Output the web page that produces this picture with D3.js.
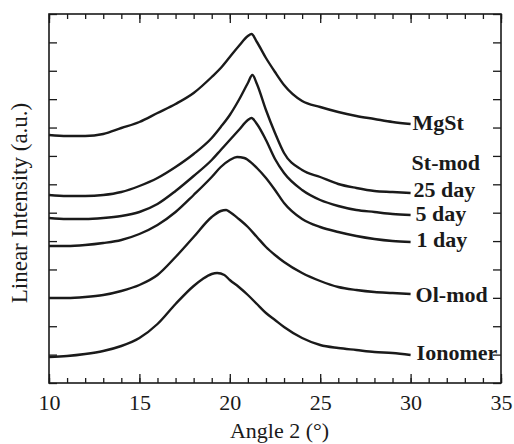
<!DOCTYPE html>
<html>
<head>
<meta charset="utf-8">
<script src="https://cdn.jsdelivr.net/npm/d3@7"></script>
<style>
  html, body { margin: 0; padding: 0; background: #fff; }
  svg { display: block; }
  text { font-family: "Liberation Serif", "Times New Roman", serif; fill: #1a1a1a; }
</style>
</head>
<body>
<svg id="chart" width="514" height="444"></svg>
<script>
// X-ray diffraction scans, offset vertically (arbitrary intensity units)
const xTicksMajor = [10, 15, 20, 25, 30, 35];

const mgstAngle = [10, 11, 12, 13, 14, 15, 16, 17, 18, 19, 19.5, 20, 20.5, 21, 21.2, 21.5, 22, 22.5, 23, 24, 25, 26, 27, 28, 29, 30];
const mgstValue = [248, 247, 247, 249, 255, 261, 270, 279, 290, 306, 315, 326, 337, 347, 349, 341, 325, 311, 298, 282, 276, 271, 267, 264, 261, 259];

const day25Angle = [10, 11, 12, 13, 14, 15, 16, 17, 18, 19, 19.5, 20, 20.5, 21, 21.25, 21.5, 22, 22.5, 23, 24, 25, 26, 27, 28, 29, 30];
const day25Value = [188, 187, 187, 188, 191, 197, 205, 216, 229, 245, 256, 268, 283, 300, 308, 299, 273, 250, 230, 213, 206, 199, 195, 192, 191, 190];

const day5Angle = [10, 11, 12, 13, 14, 15, 16, 17, 18, 19, 19.5, 20, 20.5, 21, 21.2, 21.5, 22, 22.5, 23, 24, 25, 26, 27, 28, 29, 30];
const day5Value = [165, 164, 164, 165, 167, 171, 179, 192, 207, 223, 233, 243, 253, 263, 265, 259, 243, 224, 210, 193, 183, 177, 173, 171, 169, 168];

const day1Angle = [10, 11, 12, 13, 14, 15, 16, 17, 18, 19, 19.5, 20, 20.4, 20.8, 21, 21.5, 22, 22.5, 23, 24, 25, 26, 27, 28, 29, 30];
const day1Value = [137, 137, 138, 140, 143, 149, 158, 171, 188, 206, 216, 223, 226, 225, 223, 215, 205, 193, 180, 164, 156, 151, 147, 144, 142, 141];

const olmodAngle = [10, 11, 12, 13, 14, 15, 16, 17, 18, 19, 19.5, 19.8, 20, 20.5, 21, 21.5, 22, 22.5, 23, 24, 25, 26, 27, 28, 29, 30];
const olmodValue = [85, 85, 86, 88, 92, 98, 108, 126, 146, 166, 172, 173, 171, 164, 156, 146, 136, 128, 121, 110, 102, 96, 93, 91, 90, 89];

const ionomerAngle = [10, 11, 12, 13, 14, 15, 16, 17, 18, 18.5, 19, 19.3, 19.7, 20, 20.5, 21, 21.5, 22, 22.5, 23, 24, 25, 26, 27, 28, 29, 30];
const ionomerValue = [26, 27, 29, 32, 37, 45, 59, 79, 97, 104, 109, 110, 108, 103, 96, 88, 79, 70, 63, 56, 45, 38, 35, 33, 31, 30, 28];

const seriesLabels = ["MgSt", "25 day", "5 day", "1 day", "Ol-mod", "Ionomer"];
const groupLabel = "St-mod";

const series = [
  { name: seriesLabels[0], angle: mgstAngle, value: mgstValue },
  { name: seriesLabels[1], angle: day25Angle, value: day25Value },
  { name: seriesLabels[2], angle: day5Angle, value: day5Value },
  { name: seriesLabels[3], angle: day1Angle, value: day1Value },
  { name: seriesLabels[4], angle: olmodAngle, value: olmodValue },
  { name: seriesLabels[5], angle: ionomerAngle, value: ionomerValue }
];

const W = 514, H = 444;
const margin = { top: 14, right: 13, bottom: 61, left: 49 };
const iw = W - margin.left - margin.right;
const ih = H - margin.top - margin.bottom;
const yMax = 369;

const svg = d3.select("#chart");
const g = svg.append("g").attr("transform", `translate(${margin.left},${margin.top})`);

const x = d3.scaleLinear().domain([10, 35]).range([0, iw]);
const y = d3.scaleLinear().domain([0, yMax]).range([ih, 0]);

const ink = "#1a1a1a";

// Minor ticks every degree, major every five
const minorX = d3.range(10, 35.001, 1);
const yTicks = d3.range(0, 14).map(i => i * yMax / 13);

const bottomMinor = d3.axisBottom(x).tickValues(minorX).tickSize(-5).tickFormat("");
const bottomMajor = d3.axisBottom(x).tickValues(xTicksMajor).tickSize(-9).tickPadding(11).tickFormat(d3.format("d"));
const topMinor = d3.axisTop(x).tickValues(minorX).tickSize(-5).tickFormat("");
const topMajor = d3.axisTop(x).tickValues(xTicksMajor).tickSize(-9).tickFormat("");
const leftAx = d3.axisLeft(y).tickValues(yTicks).tickSize(-8).tickFormat("");
const rightAx = d3.axisRight(y).tickValues(yTicks).tickSize(-8).tickFormat("");

function styleAxis(sel) {
  sel.select(".domain").remove();
  sel.selectAll(".tick line").attr("stroke", ink).attr("stroke-width", 1.3);
  sel.selectAll(".tick text").attr("fill", ink).style("font-size", "22px")
    .style("font-family", '"Liberation Serif", "Times New Roman", serif');
}

g.append("g").attr("transform", `translate(0,${ih})`).call(bottomMinor).call(styleAxis);
g.append("g").attr("transform", `translate(0,${ih})`).call(bottomMajor).call(styleAxis);
g.append("g").call(topMinor).call(styleAxis);
g.append("g").call(topMajor).call(styleAxis);
g.append("g").call(leftAx).call(styleAxis);
g.append("g").attr("transform", `translate(${iw},0)`).call(rightAx).call(styleAxis);

// Frame
g.append("rect").attr("x", 0).attr("y", 0).attr("width", iw).attr("height", ih)
  .attr("fill", "none").attr("stroke", ink).attr("stroke-width", 1.6);

// Scans
const line = d3.line()
  .x(d => x(d[0]))
  .y(d => y(d[1]))
  .curve(d3.curveMonotoneX);

g.selectAll("path.scan").data(series).join("path")
  .attr("class", "scan")
  .attr("d", s => line(s.angle.map((a, i) => [a, s.value[i]])))
  .attr("fill", "none")
  .attr("stroke", ink)
  .attr("stroke-width", 2.4)
  .attr("stroke-linejoin", "round");

// Curve labels at the right end of each scan
const labelPos = [
  { text: seriesLabels[0], dx: 2, dy: 6 },
  { text: seriesLabels[1], dx: 3, dy: 4 },
  { text: seriesLabels[2], dx: 5, dy: 6 },
  { text: seriesLabels[3], dx: 6, dy: 5 },
  { text: seriesLabels[4], dx: 5, dy: 8 },
  { text: seriesLabels[5], dx: 6, dy: 5 }
];
labelPos.forEach((p, i) => {
  const s = series[i];
  const last = s.angle.length - 1;
  g.append("text")
    .attr("x", x(s.angle[last]) + p.dx)
    .attr("y", y(s.value[last]) + p.dy)
    .style("font-size", "22px")
    .style("font-weight", "bold")
    .text(p.text);
});
// Group heading above the stearate-modified set
g.append("text")
  .attr("x", x(30) + 1)
  .attr("y", 170 - margin.top)
  .style("font-size", "22px")
  .style("font-weight", "bold")
  .text(groupLabel);

// Axis titles
svg.append("text")
  .attr("x", margin.left + x(22.75))
  .attr("y", 438)
  .attr("text-anchor", "middle")
  .style("font-size", "22px")
  .text("Angle 2 (°)");

svg.append("text")
  .attr("transform", "translate(27,203) rotate(-90)")
  .attr("text-anchor", "middle")
  .style("font-size", "23px")
  .text("Linear Intensity (a.u.)");
</script>
</body>
</html>
